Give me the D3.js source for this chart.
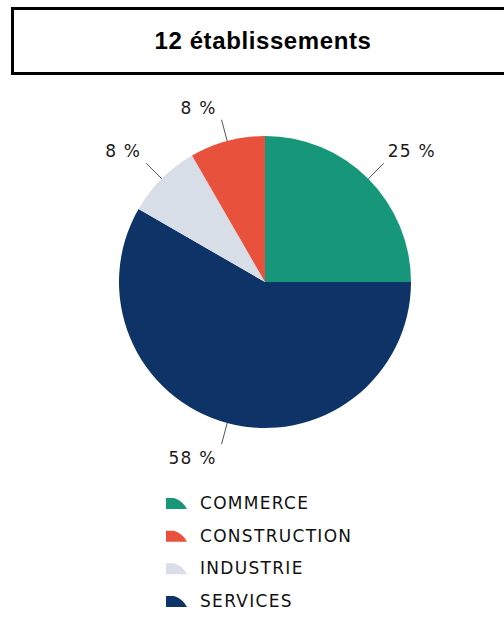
<!DOCTYPE html>
<html>
<head>
<meta charset="utf-8">
<script src="https://cdn.jsdelivr.net/npm/d3@7"></script>
<style>
  html, body { margin: 0; padding: 0; background: #ffffff; }
  svg { display: block; }
</style>
</head>
<body>
<script>
// ---- data ----
const title = "12 établissements";
const sliceCategories = ["COMMERCE", "SERVICES", "INDUSTRIE", "CONSTRUCTION"]; // clockwise from 12 o'clock
const sliceValues = [3, 7, 1, 1];
const legendCategories = ["COMMERCE", "CONSTRUCTION", "INDUSTRIE", "SERVICES"];
const categoryColors = ["#16977a", "#e8513b", "#d7dee8", "#0e3366"]; // matches legendCategories

const W = 504, H = 636;
const svg = d3.select("body").append("svg").attr("width", W).attr("height", H);

// title box
svg.append("rect")
  .attr("x", 12.5).attr("y", 8.5).attr("width", 520).attr("height", 65)
  .attr("fill", "#fff").attr("stroke", "#000").attr("stroke-width", 3);
svg.append("text")
  .attr("x", 263).attr("y", 49)
  .attr("text-anchor", "middle")
  .attr("font-family", "'Liberation Sans', Arial, Helvetica, sans-serif")
  .attr("font-weight", "bold").attr("font-size", 24)
  .attr("letter-spacing", "0.6px")
  .attr("fill", "#000")
  .text(title);

// pie
const cx = 265, cy = 282, R = 146;
const color = d3.scaleOrdinal().domain(legendCategories).range(categoryColors);
const total = d3.sum(sliceValues);
const data = sliceCategories.map((c, i) => ({ cat: c, value: sliceValues[i] }));
const pie = d3.pie().sort(null).value(d => d.value);
const arcs = pie(data);
const arc = d3.arc().innerRadius(0).outerRadius(R);

const g = svg.append("g").attr("transform", `translate(${cx},${cy})`);
g.selectAll("path.slice").data(arcs).enter().append("path")
  .attr("class", "slice")
  .attr("d", arc)
  .attr("fill", d => color(d.data.cat));

// labels with leader lines
const labelFont = "'DejaVu Sans', Tahoma, Verdana, sans-serif";
arcs.forEach(d => {
  const a = (d.startAngle + d.endAngle) / 2;
  const p0 = [R * Math.sin(a), -R * Math.cos(a)];
  const p1 = [168 * Math.sin(a), -168 * Math.cos(a)];
  g.append("line")
    .attr("x1", p0[0]).attr("y1", p0[1])
    .attr("x2", p1[0]).attr("y2", p1[1])
    .attr("stroke", "#555").attr("stroke-width", 1);
  const right = p1[0] > 0;
  const below = p1[1] > 0;
  g.append("text")
    .attr("x", p1[0] + (right ? 4 : -5))
    .attr("y", p1[1] + (below ? 20 : -6))
    .attr("text-anchor", right ? "start" : "end")
    .attr("font-family", labelFont).attr("font-size", 17)
    .attr("letter-spacing", "1.2px")
    .attr("fill", "#1a1a1a")
    .text(Math.round(d.value / total * 100) + " %");
});

// legend
const ly = d3.scalePoint().domain(legendCategories).range([509, 607]);
const lg = svg.append("g");
legendCategories.forEach(c => {
  const y = ly(c);
  lg.append("path")
    .attr("transform", `translate(166,${y})`)
    .attr("d", "M0,0 L0,-11 L8,-11 Q17,-8 21,0 Z")
    .attr("fill", color(c));
  lg.append("text")
    .attr("x", 200).attr("y", y)
    .attr("font-family", labelFont).attr("font-size", 17)
    .attr("letter-spacing", "1.3px")
    .attr("fill", "#111")
    .text(c);
});
</script>
</body>
</html>
